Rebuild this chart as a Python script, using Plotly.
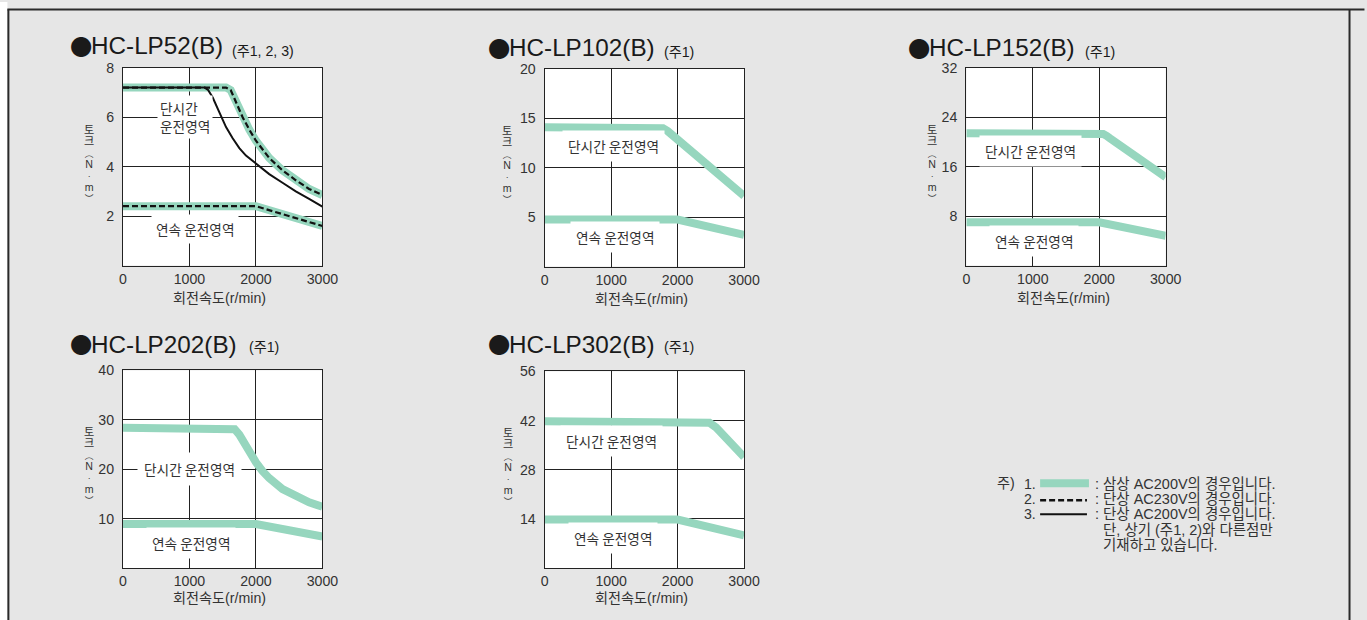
import plotly.graph_objects as go

W, H = 1367, 620

# ---------------- data ----------------
models = ["HC-LP52(B)", "HC-LP102(B)", "HC-LP152(B)", "HC-LP202(B)", "HC-LP302(B)"]
notes = ["(주1, 2, 3)", "(주1)", "(주1)", "(주1)", "(주1)"]
x_ticks = [0, 1000, 2000, 3000]
y_ticks = [[2, 4, 6, 8], [5, 10, 15, 20], [8, 16, 24, 32], [10, 20, 30, 40], [14, 28, 42, 56]]
x_title = "회전속도(r/min)"
y_title_chars = ["토", "크", "︵", "N", "·", "m", "︶"]
short_label = "단시간 운전영역"
short_label_2line = "단시간<br>운전영역"
cont_label = "연속 운전영역"

lp52_peak_speed = [0, 1550, 1620, 1700, 1800, 1900, 2000, 2200, 2400, 2600, 2800, 3000]
lp52_peak_torque = [7.2, 7.2, 7.1, 6.6, 6.0, 5.5, 5.05, 4.35, 3.85, 3.45, 3.1, 2.85]
lp52_cont_speed = [0, 2000, 3000]
lp52_cont_torque = [2.4, 2.4, 1.6]
lp52_1ph200_speed = [0, 1230, 1280, 1350, 1450, 1550, 1650, 1750, 1850, 2000, 2200, 2400, 2600, 2800, 3000]
lp52_1ph200_torque = [7.2, 7.2, 7.1, 6.8, 6.2, 5.6, 5.15, 4.75, 4.45, 4.12, 3.7, 3.35, 3.0, 2.7, 2.38]

lp102_peak_speed = [0, 1700, 1780, 1850, 1920, 2000, 3000]
lp102_peak_torque = [14.1, 14.1, 14.0, 13.7, 13.3, 12.85, 7.15]
lp102_cont_speed = [0, 2000, 3000]
lp102_cont_torque = [4.75, 4.75, 3.2]

lp152_peak_speed = [0, 2000, 2060, 2110, 2160, 3000]
lp152_peak_torque = [21.4, 21.4, 21.3, 21.0, 20.6, 14.3]
lp152_cont_speed = [0, 2000, 3000]
lp152_cont_torque = [7.0, 7.0, 4.8]

lp202_peak_speed = [0, 1600, 1680, 1750, 1850, 1950, 2000, 2100, 2200, 2400, 2600, 2800, 3000]
lp202_peak_torque = [28.4, 28.4, 28.1, 27.0, 24.6, 22.4, 21.4, 19.6, 18.2, 16.0, 14.5, 13.3, 12.4]
lp202_cont_speed = [0, 2000, 3000]
lp202_cont_torque = [8.9, 8.9, 6.4]

lp302_peak_speed = [0, 2400, 2480, 2580, 3000]
lp302_peak_torque = [41.8, 41.8, 41.4, 40.0, 31.6]
lp302_cont_speed = [0, 2000, 3000]
lp302_cont_torque = [13.8, 13.8, 9.3]

legend_texts = [
    ": 삼상 AC200V의 경우입니다.",
    ": 단상 AC230V의 경우입니다.",
    ": 단상 AC200V의 경우입니다.",
    "&nbsp;&nbsp;단, 상기 (주1, 2)와 다른점만",
    "&nbsp;&nbsp;기재하고 있습니다.",
]
legend_numbers = ["1.", "2.", "3."]
legend_head = "주)"

# ---------------- layout helpers ----------------
GREEN = "#96d6be"
DARK = "#222222"
TXT = "#333333"
LATIN = "Liberation Sans, Arial, sans-serif"
KR = "Noto Sans CJK KR, sans-serif"
MIX = "Liberation Sans, Noto Sans CJK KR, sans-serif"

# the photographed page comes out slightly scaled; positions below are the
# target picture positions, converted back to page pixels
S = 0.9885
DX, DY = 1.6, 7.1
K = 1 / S


def X(x):
    return (x - DX) / S


def Y(y):
    return (y - DY) / S


def px(x):
    return X(x) / W


def py(y):
    return 1 - Y(y) / H


def fs(v):
    return round(v * K, 2)


def span(t, size):
    return f"<span style='font-size:{fs(size)}px'>{t}</span>"


# plot areas in target pixels (x0, y0, x1, y1)
panels = [(121, 67, 321, 265), (544, 68, 744, 266), (967, 67, 1167, 265),
          (121, 370, 321, 568), (544, 371, 744, 568)]
title_y = [45, 47, 47, 344, 344]
note_x = [228, 662, 1084, 245, 662]
note_y = [50, 51, 51, 347, 347]
ytitle_dx = [-34, -38, -34, -34, -37]
xtitle_dy = [33, 33, 33, 30, 30]

fig = go.Figure()

peaks = [(lp52_peak_speed, lp52_peak_torque), (lp102_peak_speed, lp102_peak_torque),
         (lp152_peak_speed, lp152_peak_torque), (lp202_peak_speed, lp202_peak_torque),
         (lp302_peak_speed, lp302_peak_torque)]
conts = [(lp52_cont_speed, lp52_cont_torque), (lp102_cont_speed, lp102_cont_torque),
         (lp152_cont_speed, lp152_cont_torque), (lp202_cont_speed, lp202_cont_torque),
         (lp302_cont_speed, lp302_cont_torque)]

ytitle_sizes = [11, 11, 8.6, 10.5, 8.6, 10.5, 8.6]
ytitle_text = "<br>".join(span(c, s) for c, s in zip(y_title_chars, ytitle_sizes))

annotations = []
layout_axes = {}
for i in range(5):
    sfx = "" if i == 0 else str(i + 1)
    xa, ya = "x" + sfx, "y" + sfx
    x0, y0, x1, y1 = panels[i]
    yt = y_ticks[i]
    layout_axes["xaxis" + sfx] = dict(
        domain=[px(x0), px(x1)], anchor=ya, range=[0, 3000], tickvals=x_ticks,
        showgrid=True, gridcolor=DARK, gridwidth=1, zeroline=False,
        showline=True, mirror=True, linecolor=DARK, linewidth=1.3,
        ticks="", ticklabelstandoff=0,
        tickfont=dict(family=LATIN, size=fs(14), color=TXT), fixedrange=True)
    layout_axes["yaxis" + sfx] = dict(
        domain=[py(y1), py(y0)], anchor=xa, range=[0, yt[-1]], tickvals=yt,
        showgrid=True, gridcolor=DARK, gridwidth=1, zeroline=False,
        showline=True, mirror=True, linecolor=DARK, linewidth=1.3,
        ticks="", ticklabelstandoff=5,
        tickfont=dict(family=LATIN, size=fs(14), color=TXT), fixedrange=True)

    for (sx, sy) in (peaks[i], conts[i]):
        fig.add_trace(go.Scatter(x=sx, y=sy, xaxis=xa, yaxis=ya, mode="lines",
                                 line=dict(color=GREEN, width=8), hoverinfo="skip",
                                 showlegend=False))
    if i == 0:
        fig.add_trace(go.Scatter(x=lp52_1ph200_speed, y=lp52_1ph200_torque, xaxis=xa, yaxis=ya,
                                 mode="lines", line=dict(color="#111111", width=2),
                                 hoverinfo="skip", showlegend=False))
        for (sx, sy) in (peaks[i], conts[i]):
            fig.add_trace(go.Scatter(x=sx, y=sy, xaxis=xa, yaxis=ya, mode="lines",
                                     line=dict(color="#111111", width=2.2, dash="6px,3px"),
                                     hoverinfo="skip", showlegend=False))

    # titles
    bx = x0 - 55 if i in (0, 3) else x0 - 59 if i in (1, 4) else x0 - 61
    annotations.append(dict(text="●", x=px(bx), y=py(title_y[i]), xref="paper", yref="paper",
                            xanchor="left", yanchor="middle", showarrow=False,
                            font=dict(family=KR, size=fs(22), color="#1a1a1a")))
    tx = x0 - 34 if i in (0, 3) else x0 - 38 if i in (1, 4) else x0 - 39
    annotations.append(dict(text=models[i], x=px(tx), y=py(title_y[i]), xref="paper", yref="paper",
                            xanchor="left", yanchor="middle", showarrow=False,
                            font=dict(family=LATIN, size=fs(24), color="#1a1a1a")))
    annotations.append(dict(text=notes[i], x=px(note_x[i]), y=py(note_y[i]), xref="paper", yref="paper",
                            xanchor="left", yanchor="middle", showarrow=False,
                            font=dict(family=MIX, size=fs(14), color="#1a1a1a")))
    # axis titles
    annotations.append(dict(text=x_title, x=px((x0 + x1) / 2 - 3), y=py(y1 + xtitle_dy[i]),
                            xref="paper", yref="paper", xanchor="center", yanchor="middle",
                            showarrow=False, font=dict(family=MIX, size=fs(14), color=TXT)))
    annotations.append(dict(text=ytitle_text, x=px(x0 + ytitle_dx[i]), y=py(y0 + 96),
                            xref="paper", yref="paper", xanchor="center", yanchor="middle",
                            showarrow=False,
                            font=dict(family=MIX, size=fs(8.6), color=TXT)))

# region labels (data coordinates)
region_labels = [
    [(937, 6.0, short_label_2line, "left", 2), (1088, 1.49, cont_label, "center", 4)],
    [(1028, 12.2, short_label, "center", 5), (1065, 2.96, cont_label, "center", 5)],
    [(960, 18.6, short_label, "center", 5), (1020, 3.93, cont_label, "center", 5)],
    [(1005, 20.0, short_label, "center", 6), (1028, 4.99, cont_label, "center", 5)],
    [(1005, 36.2, short_label, "center", 5), (1035, 8.44, cont_label, "center", 5)],
]
for i, labs in enumerate(region_labels):
    sfx = "" if i == 0 else str(i + 1)
    for (lx, ly, t, al, pad) in labs:
        annotations.append(dict(text=t, x=lx, y=ly, xref="x" + sfx, yref="y" + sfx,
                                xanchor="center", yanchor="middle", align=al, showarrow=False,
                                bgcolor="white", borderpad=pad,
                                font=dict(family=KR, size=fs(13.5), color=TXT)))

# legend note (multi-line blocks with tight leading)
annotations.append(dict(text=span(legend_head, 14), x=px(996), y=py(483), xref="paper", yref="paper",
                        xanchor="left", yanchor="middle", showarrow=False,
                        font=dict(family=MIX, size=fs(11.6), color=TXT)))
annotations.append(dict(text="<br>".join(span(n, 14) for n in legend_numbers),
                        x=px(1023), y=py(499), xref="paper", yref="paper",
                        xanchor="left", yanchor="middle", align="left", showarrow=False,
                        font=dict(family=LATIN, size=fs(11.6), color=TXT)))
annotations.append(dict(text="<br>".join(span(t, 14.3) for t in legend_texts),
                        x=px(1094), y=py(514), xref="paper", yref="paper",
                        xanchor="left", yanchor="middle", align="left", showarrow=False,
                        font=dict(family=MIX, size=fs(11.6), color=TXT)))

shapes = [
    # white strip left of the frame
    dict(type="rect", xref="paper", yref="paper", x0=-0.01, x1=px(5), y0=-0.01, y1=1.01,
         fillcolor="white", line=dict(width=0), layer="below"),
    # frame border (top, left, right)
    dict(type="line", xref="paper", yref="paper", x0=px(5), x1=1.01, y0=py(8.5), y1=py(8.5),
         line=dict(color="#2a2a2a", width=2)),
    dict(type="line", xref="paper", yref="paper", x0=px(6), x1=px(6), y0=py(8.5), y1=-0.02,
         line=dict(color="#2a2a2a", width=2)),
    dict(type="line", xref="paper", yref="paper", x0=1365.5 / W, x1=1365.5 / W, y0=py(8.5), y1=-0.02,
         line=dict(color="#2a2a2a", width=2)),
    # legend swatches
    dict(type="line", xref="paper", yref="paper", x0=px(1041), x1=px(1090), y0=py(483), y1=py(483),
         line=dict(color=GREEN, width=8)),
    dict(type="line", xref="paper", yref="paper", x0=px(1041), x1=px(1088), y0=py(500), y1=py(500),
         line=dict(color="#111111", width=2.5, dash="6px,3px")),
    dict(type="line", xref="paper", yref="paper", x0=px(1041), x1=px(1088), y0=py(514), y1=py(514),
         line=dict(color="#111111", width=2)),
]

fig.update_layout(
    width=W, height=H, autosize=False,
    margin=dict(l=0, r=0, t=0, b=0),
    paper_bgcolor="#e6e6e6", plot_bgcolor="white",
    showlegend=False, annotations=annotations, shapes=shapes,
    **layout_axes,
)

fig.write_html("out.html", config={"displayModeBar": False},
               post_script="document.body.style.margin='0';document.body.style.overflow='hidden';")
